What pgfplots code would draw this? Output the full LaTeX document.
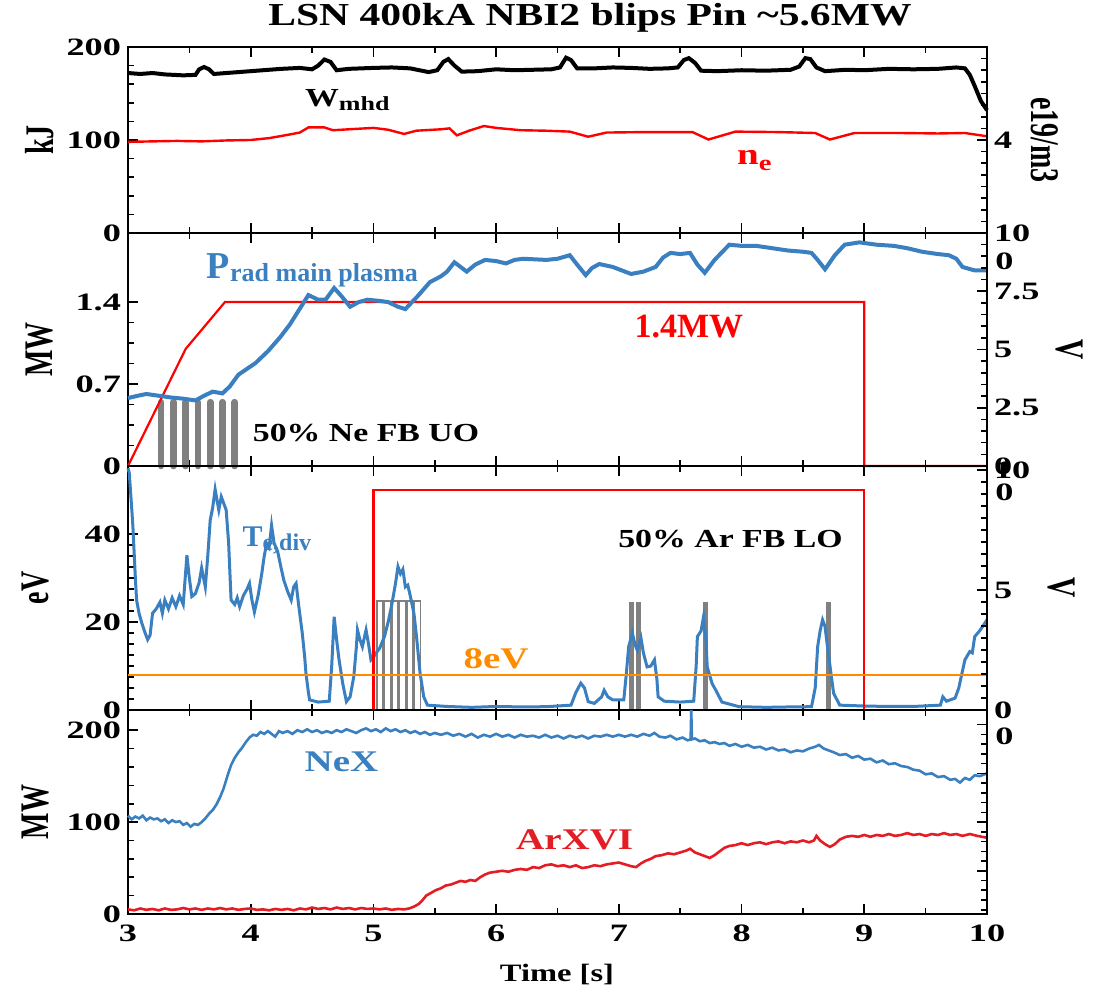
\documentclass[border=0pt]{standalone}
\usepackage{fontspec}
\setmainfont{Liberation Serif}
\newfontfamily\wide{Liberation Serif}[FakeStretch=1.3]
\newfontfamily\wider{Liberation Serif}[FakeStretch=1.45]
\usepackage{pgfplots}
\pgfplotsset{compat=1.18}

\definecolor{pblue}{RGB}{58,128,192}
\definecolor{pred}{RGB}{255,0,0}
\definecolor{ared}{RGB}{228,28,36}
\definecolor{porange}{RGB}{255,140,0}
\definecolor{bgray}{RGB}{128,128,128}

\newcommand{\fs}[1]{\fontsize{#1}{#1}\selectfont}
\newcommand{\tickf}{\wider\bfseries\fs{12.5}}
\newcommand{\labf}{\bfseries\fs{14}}
% axis titles: glyphs stretched across the line, as in the reference
\newcommand{\ylab}[1]{\scalebox{1}[1.45]{#1}}

\pgfplotsset{
  panel/.style={
    scale only axis, width=429.5pt, anchor=south west, clip=false,
    xmin=3, xmax=10, xtick={3,...,10}, minor x tick num=1,
    xticklabels={}, ytick pos=left,
    tick align=inside, major tick length=5pt, minor tick length=3pt,
    axis line style={line width=1.25pt},
    every tick/.style={black, line width=0.8pt},
    tick label style={font=\tickf},
    /pgf/number format/assume math mode=true,
  },
  rpanel/.style={
    scale only axis, width=429.5pt, anchor=south west,
    xmin=3, xmax=10, axis x line=none, axis y line*=right,
    tick align=inside, major tick length=5pt, minor tick length=3pt,
    axis line style={line width=1.25pt},
    every tick/.style={black, line width=0.8pt},
    tick label style={font=\tickf},
    /pgf/number format/assume math mode=true,
  },
}

\begin{document}
\begin{tikzpicture}
\useasboundingbox (0,0) rectangle (549.5pt,497.5pt);

% ---------- panel 1: Wmhd, ne ----------
\begin{axis}[panel, at={(64pt,381pt)}, height=93pt, ymin=0, ymax=200,
  ytick={0,100,200}, minor y tick num=4]
\addplot[black, line width=2pt] coordinates {
 (3.00,172) (3.10,171) (3.20,172) (3.30,170.5) (3.45,169.5) (3.55,170) (3.58,176) (3.62,178.5)
 (3.66,176) (3.70,171) (3.80,172) (3.95,173.5) (4.10,175) (4.25,176.5) (4.40,177.5) (4.50,176)
 (4.55,180) (4.60,186.5) (4.65,184) (4.70,175) (4.80,176.5) (5.00,177.5) (5.15,178) (5.30,177)
 (5.45,173) (5.52,175) (5.57,184) (5.61,187) (5.66,180) (5.72,173.5) (5.85,174) (6.00,176)
 (6.15,175) (6.30,175.5) (6.45,176) (6.52,178) (6.57,188.5) (6.61,186) (6.66,177) (6.80,177)
 (6.95,178) (7.10,177.5) (7.25,176.5) (7.40,177) (7.48,178) (7.53,186) (7.57,188) (7.62,183)
 (7.67,174.5) (7.80,174) (8.00,175) (8.20,174.5) (8.40,175.5) (8.47,179) (8.52,188) (8.56,187)
 (8.61,178) (8.68,174) (8.85,175.5) (9.00,175) (9.20,176.5) (9.40,176) (9.60,176.5) (9.75,178)
 (9.82,177) (9.86,170) (9.90,158) (9.95,142) (10.00,132)};
\addplot[pred, line width=1.2pt] coordinates {
 (3.00,98) (3.20,98.5) (3.40,99) (3.60,98.5) (3.80,99.5) (4.00,100) (4.15,102) (4.30,105.5)
 (4.40,108) (4.47,113.5) (4.60,113.5) (4.67,110.5) (4.80,111.5) (5.00,113) (5.12,111) (5.25,106.5)
 (5.35,110) (5.55,111.5) (5.62,112.5) (5.68,105) (5.78,110) (5.90,115) (6.00,113) (6.20,110.5)
 (6.40,110) (6.60,109) (6.75,103.5) (6.90,108) (7.20,108.5) (7.60,108.5) (7.73,100.5) (7.95,109)
 (8.30,108.5) (8.60,107.5) (8.72,100.5) (8.92,107.5) (9.30,107.5) (9.60,107) (9.82,107.5) (10.00,104)};
\node[anchor=west, inner sep=0pt] at (axis cs:4.44,143)
  {\wide\bfseries\fs{13}W\raisebox{-0.4ex}{\fs{10}mhd}};
\node[anchor=west, inner sep=0pt, text=pred] at (axis cs:7.96,78)
  {\wide\bfseries\fs{15}n\raisebox{-0.4ex}{\fs{11}e}};
\node[rotate=90, font=\labf] at ([xshift=-44pt]rel axis cs:0,0.5) {\ylab{kJ}};
\node[rotate=-90, font=\labf] at ([xshift=29pt]rel axis cs:1,0.5) {\ylab{e19/m3}};
\end{axis}
\begin{axis}[rpanel, at={(64pt,381pt)}, height=93pt, ymin=0, ymax=8,
  ytick={0,4,8}, yticklabels={,4,}, minor y tick num=7]
\end{axis}

% ---------- panel 2: Prad ----------
\begin{axis}[panel, at={(64pt,264.5pt)}, height=116.5pt, ymin=0, ymax=1.99,
  ytick={0,0.7,1.4}, yticklabels={0,0.7,1.4}, minor y tick num=3]
\addplot[ycomb, bgray, line width=3.3pt, line cap=round] coordinates {
 (3.27,0.545) (3.37,0.545) (3.47,0.545) (3.57,0.545) (3.67,0.545) (3.77,0.545) (3.87,0.545)};
\addplot[pred, line width=1.1pt] coordinates {
 (3.00,0) (3.47,1.0) (3.79,1.4) (9.00,1.4) (9.00,0) (10.00,0)};
\addplot[pblue, line width=2pt] coordinates {
 (3.00,0.58) (3.08,0.60) (3.15,0.615) (3.25,0.60) (3.35,0.585) (3.45,0.575) (3.55,0.56) (3.62,0.60)
 (3.69,0.635) (3.77,0.62) (3.83,0.68) (3.90,0.78) (3.97,0.83) (4.04,0.88) (4.14,0.98) (4.24,1.10)
 (4.32,1.21) (4.38,1.31) (4.47,1.46) (4.55,1.42) (4.61,1.42) (4.68,1.52) (4.74,1.45) (4.81,1.36)
 (4.88,1.40) (4.95,1.42) (5.05,1.41) (5.12,1.40) (5.20,1.36) (5.26,1.34) (5.36,1.45) (5.46,1.57)
 (5.55,1.62) (5.60,1.66) (5.66,1.74) (5.71,1.70) (5.76,1.66) (5.83,1.72) (5.91,1.76) (6.00,1.75)
 (6.08,1.73) (6.15,1.76) (6.22,1.77) (6.41,1.76) (6.50,1.77) (6.60,1.80) (6.66,1.72) (6.73,1.63)
 (6.78,1.69) (6.84,1.725) (6.95,1.70) (7.10,1.64) (7.20,1.66) (7.30,1.70) (7.36,1.78) (7.42,1.82)
 (7.50,1.81) (7.58,1.82) (7.64,1.72) (7.70,1.65) (7.78,1.76) (7.90,1.89) (8.00,1.88) (8.12,1.88)
 (8.25,1.86) (8.38,1.84) (8.50,1.83) (8.57,1.82) (8.62,1.76) (8.68,1.68) (8.76,1.80) (8.84,1.89)
 (8.96,1.91) (9.10,1.89) (9.24,1.88) (9.35,1.86) (9.47,1.83) (9.60,1.81) (9.69,1.80) (9.75,1.77)
 (9.80,1.70) (9.90,1.67) (10.00,1.67)};
\node[anchor=west, text=pblue, inner sep=0pt] at (axis cs:3.64,1.67)
  {\bfseries{\fs{19}P}\raisebox{-0.3ex}{\fs{13}rad main plasma}};
\node[font=\bfseries\fs{17}, text=pred] at (axis cs:7.57,1.19) {1.4MW};
\node[font=\wide\bfseries\fs{13}] at (axis cs:4.94,0.28) {50\% Ne FB UO};
\node[anchor=west, font=\tickf, inner sep=0pt] at ([xshift=4pt]axis cs:10,1.745) {0};
\node[rotate=90, font=\labf] at ([xshift=-44pt]rel axis cs:0,0.5) {\ylab{MW}};
\node[rotate=-90, font=\labf] at ([xshift=41pt]rel axis cs:1,0.5) {\ylab{V}};
\end{axis}
\begin{axis}[rpanel, at={(64pt,264.5pt)}, height=116.5pt, ymin=0, ymax=10,
  ytick={0,2.5,5,7.5,10}, yticklabels={0,2.5,5,7.5,10}, minor y tick num=4]
\end{axis}

% ---------- panel 3: Te,div ----------
\begin{axis}[panel, at={(64pt,142.5pt)}, height=122pt, ymin=0, ymax=55.5,
  ytick={0,20,40}, minor y tick num=7]
\addplot[ybar, bar width=3pt, draw=bgray, line width=0.8pt, fill=none] coordinates {
 (5.054,24.8) (5.115,24.8) (5.176,24.8) (5.237,24.8) (5.298,24.8) (5.359,24.8)};
\addplot[ycomb, bgray, line width=2.5pt] coordinates {
 (7.10,24.6) (7.16,24.6) (7.71,24.6) (8.71,24.6)};
\addplot[pblue, line width=1.5pt] coordinates {
 (3.00,55) (3.01,54) (3.03,46) (3.04,41.7) (3.06,30) (3.07,25) (3.09,22) (3.11,20) (3.14,17.5)
 (3.16,16) (3.18,17) (3.20,22) (3.23,23) (3.26,24.5) (3.28,22) (3.30,25) (3.33,23) (3.36,25.5)
 (3.39,23.5) (3.42,26) (3.45,24) (3.48,35.2) (3.50,30) (3.52,25.8) (3.55,26.5) (3.58,29) (3.60,32.3)
 (3.63,28) (3.65,35) (3.67,43.2) (3.69,46) (3.71,50.2) (3.73,47) (3.74,45.5) (3.76,48.5) (3.78,47)
 (3.80,45.5) (3.82,38) (3.84,25) (3.87,24) (3.89,25.5) (3.91,23.5) (3.94,26) (3.97,27.5) (3.99,28.8)
 (4.01,25) (4.03,22.3) (4.06,26) (4.09,31) (4.11,35) (4.13,37.9) (4.15,37) (4.17,42) (4.19,38)
 (4.22,36) (4.25,32) (4.27,29.5) (4.30,27) (4.33,25) (4.35,28) (4.37,28.8) (4.39,24) (4.42,17.5)
 (4.44,12) (4.45,8.4) (4.47,4) (4.48,2.3) (4.55,1.8) (4.64,2.0) (4.66,10) (4.68,21.2) (4.70,16)
 (4.72,11.4) (4.75,6) (4.78,1.9) (4.81,3) (4.84,7.6) (4.86,14) (4.87,18.2) (4.89,16) (4.91,14.4)
 (4.93,17) (4.94,18.2) (4.96,15) (4.98,11.4) (5.00,12) (5.02,12.9) (5.05,14) (5.09,16.7) (5.12,20)
 (5.15,24) (5.18,28.8) (5.20,32.6) (5.22,31) (5.24,32) (5.26,28) (5.28,28.4) (5.30,26) (5.33,22)
 (5.35,17) (5.38,8.4) (5.41,3) (5.44,1.1) (5.60,0.8) (5.80,0.6) (6.00,0.8) (6.20,0.7) (6.41,0.75)
 (6.61,1.1) (6.65,4) (6.69,6.1) (6.72,5) (6.75,1.9) (6.80,1.5) (6.86,3) (6.88,4.5) (6.91,3)
 (6.95,2.3) (7.04,2.3) (7.06,8) (7.08,14.4) (7.11,17.5) (7.13,15) (7.15,13.6) (7.18,16.4) (7.20,13)
 (7.23,9.8) (7.26,10) (7.29,11.4) (7.31,7) (7.32,3.0) (7.37,2.0) (7.50,1.8) (7.61,2.0) (7.63,10)
 (7.64,16.7) (7.67,18) (7.69,21.2) (7.71,16) (7.72,9.8) (7.76,6) (7.79,4.5) (7.84,1.8) (7.98,0.75)
 (8.20,0.6) (8.40,0.7) (8.57,0.75) (8.60,5) (8.62,14.4) (8.64,18) (8.66,20.5) (8.68,19) (8.70,14.4)
 (8.73,8) (8.75,3.8) (8.80,1.1) (9.00,0.9) (9.20,0.8) (9.40,0.8) (9.62,1.1) (9.64,3) (9.67,2)
 (9.74,2.7) (9.77,5) (9.79,7.6) (9.82,11.4) (9.86,13.3) (9.88,13) (9.90,16.7) (9.94,18) (10.00,20.5)};
\addplot[pred, line width=1.1pt] coordinates {
 (5.00,0) (5.00,50) (9.00,50) (9.00,0) (10.00,0)};
\addplot[porange, line width=1.2pt] coordinates {(3,7.95) (10,7.95)};
\node[anchor=west, text=pblue, inner sep=0pt] at (axis cs:3.93,38.6)
  {\bfseries{\fs{15}T}\raisebox{-0.4ex}{\fs{12}e,div}};
\node[font=\wide\bfseries\fs{13}] at (axis cs:7.91,39) {50\% Ar FB LO};
\node[font=\wide\bfseries\fs{15}, text=porange] at (axis cs:6.0,11.6) {8eV};
\node[anchor=west, font=\tickf, inner sep=0pt] at ([xshift=4pt]axis cs:10,49.5) {0};
\node[rotate=90, font=\labf] at ([xshift=-46pt]rel axis cs:0,0.5) {\ylab{eV}};
\node[rotate=-90, font=\labf] at ([xshift=37pt]rel axis cs:1,0.5) {\ylab{V}};
\end{axis}
\begin{axis}[rpanel, at={(64pt,142.5pt)}, height=122pt, ymin=0, ymax=10.17,
  ytick={0,5,10}, yticklabels={0,5,10}, minor y tick num=9]
\end{axis}

% ---------- panel 4: NeX, ArXVI ----------
\begin{axis}[panel, at={(64pt,40.5pt)}, height=102pt, ymin=0, ymax=222,
  ytick={0,100,200}, minor y tick num=4,
  xticklabels={3,4,5,6,7,8,9,10}, xticklabel style={yshift=-2pt}]
\addplot[pblue, line width=1.3pt] coordinates {
 (3.00,107) (3.03,103) (3.06,106) (3.09,104) (3.12,107) (3.15,102) (3.18,105) (3.21,103) (3.24,104)
 (3.27,101) (3.30,103) (3.33,99) (3.36,102) (3.39,100) (3.42,101) (3.45,97) (3.48,99) (3.51,95)
 (3.54,98) (3.57,97) (3.60,100) (3.63,104) (3.66,109) (3.69,113) (3.72,119) (3.75,127) (3.78,137)
 (3.81,150) (3.84,162) (3.87,170) (3.90,176) (3.93,181) (3.96,187) (3.99,192) (4.02,195) (4.05,194)
 (4.08,198) (4.11,196) (4.14,199) (4.17,196) (4.20,193) (4.23,199) (4.26,197) (4.30,199) (4.34,196)
 (4.38,200) (4.42,198) (4.46,201) (4.50,198) (4.54,200) (4.58,197) (4.62,199) (4.66,197) (4.70,200)
 (4.74,198) (4.78,201) (4.82,199) (4.86,197) (4.90,200) (4.94,202) (4.98,199) (5.02,201) (5.06,198)
 (5.10,202) (5.14,199) (5.18,201) (5.22,198) (5.26,200) (5.30,197) (5.34,199) (5.38,196) (5.42,198)
 (5.46,195) (5.50,197) (5.55,195) (5.60,197) (5.65,194) (5.70,196) (5.75,193) (5.80,196) (5.85,192)
 (5.90,195) (5.95,193) (6.00,196) (6.05,193) (6.10,195) (6.15,192) (6.20,195) (6.25,193) (6.30,194)
 (6.35,192) (6.40,195) (6.45,192) (6.50,194) (6.55,191) (6.60,194) (6.65,192) (6.70,194) (6.75,191)
 (6.80,194) (6.85,193) (6.90,195) (6.95,193) (7.00,195) (7.05,193) (7.10,195) (7.15,193) (7.20,196)
 (7.25,194) (7.29,197) (7.33,193) (7.38,192) (7.42,194) (7.47,190) (7.52,192) (7.56,189) (7.585,190)
 (7.59,222) (7.595,190) (7.62,191) (7.66,188) (7.70,189) (7.74,186) (7.78,187) (7.82,185) (7.86,186)
 (7.90,183) (7.95,185) (8.00,182) (8.05,184) (8.10,181) (8.15,182) (8.20,179) (8.25,181) (8.30,178)
 (8.35,179) (8.40,176) (8.45,178) (8.50,177) (8.55,180) (8.60,182) (8.63,184) (8.67,180) (8.71,178)
 (8.75,176) (8.80,173) (8.85,174) (8.90,170) (8.95,172) (9.00,168) (9.05,169) (9.10,165) (9.15,167)
 (9.20,163) (9.25,164) (9.30,161) (9.35,160) (9.40,157) (9.45,156) (9.50,152) (9.55,153) (9.60,149)
 (9.65,150) (9.70,146) (9.74,147) (9.78,143) (9.82,148) (9.86,146) (9.90,151) (9.94,150) (10.00,153)};
\addplot[ared, line width=1.3pt] coordinates {
 (3.00,5) (3.05,4) (3.10,6) (3.15,4.5) (3.20,5.5) (3.25,4) (3.30,6) (3.35,4.5) (3.40,5) (3.45,6.5)
 (3.50,5) (3.55,6) (3.60,4.5) (3.65,6) (3.70,5) (3.75,6.5) (3.80,5) (3.85,6) (3.90,4.5) (3.95,5.5)
 (4.00,6) (4.05,4.5) (4.10,5) (4.15,4) (4.20,5.5) (4.25,4.5) (4.30,5.5) (4.35,4) (4.40,6) (4.45,5)
 (4.50,7) (4.55,5.5) (4.60,6.5) (4.65,5) (4.70,7) (4.75,5.5) (4.80,6.5) (4.85,5) (4.90,6.5) (4.95,5.5)
 (5.00,6) (5.05,5) (5.10,6) (5.15,4.5) (5.20,5.5) (5.25,5) (5.29,6) (5.33,8) (5.37,11) (5.40,15)
 (5.43,20) (5.47,23) (5.51,26) (5.55,28) (5.59,31) (5.63,32) (5.67,34) (5.71,36) (5.75,35) (5.79,37)
 (5.83,36) (5.87,40) (5.91,43) (5.95,45) (6.00,46) (6.05,47) (6.10,46) (6.15,48) (6.20,49) (6.25,48)
 (6.30,51) (6.35,50) (6.40,53) (6.45,54) (6.50,52) (6.55,53) (6.60,51) (6.65,53) (6.70,50) (6.75,51)
 (6.80,53) (6.85,52) (6.90,54) (6.95,55) (7.00,56) (7.05,54) (7.10,52) (7.14,51) (7.18,55) (7.22,58)
 (7.26,60) (7.30,63) (7.35,64) (7.40,66) (7.45,65) (7.50,67) (7.55,69) (7.58,71) (7.62,67) (7.66,65)
 (7.70,63) (7.74,61) (7.78,64) (7.82,68) (7.86,72) (7.90,74) (7.95,75) (8.00,77) (8.05,75) (8.10,77)
 (8.15,78) (8.20,76) (8.25,78) (8.30,79) (8.35,77) (8.40,79) (8.45,78) (8.50,80) (8.55,78) (8.59,80)
 (8.61,85) (8.64,80) (8.68,76) (8.72,73) (8.76,76) (8.80,81) (8.85,84) (8.90,85) (8.95,84) (9.00,86)
 (9.05,84) (9.10,86) (9.15,85) (9.20,87) (9.25,85) (9.30,86) (9.35,88) (9.40,86) (9.45,87) (9.50,85)
 (9.55,87) (9.60,86) (9.65,88) (9.70,86) (9.75,87) (9.80,85) (9.86,87) (9.92,85) (10.00,83)};
\node[font=\wide\bfseries\fs{15}, text=pblue] at (axis cs:4.74,165.7) {NeX};
\node[font=\wide\bfseries\fs{15}, text=ared] at (axis cs:6.64,81) {ArXVI};
\node[anchor=west, font=\tickf, inner sep=0pt] at ([xshift=4pt]axis cs:10,193.5) {0};
\node[rotate=90, font=\labf] at ([xshift=-46pt]rel axis cs:0,0.5) {\ylab{MW}};
\end{axis}
\begin{axis}[rpanel, at={(64pt,40.5pt)}, height=102pt, ymin=0, ymax=222,
  ytick={-6,47,100,153,206}, yticklabels={}, minor y tick num=4]
\end{axis}

\node[font=\wide\bfseries\fs{12.5}] at (278.5pt,10pt) {Time [s]};
\node[font=\wide\bfseries\fs{16}] at (295pt,488.5pt) {LSN 400kA NBI2 blips Pin \textasciitilde5.6MW};
\end{tikzpicture}
\end{document}
